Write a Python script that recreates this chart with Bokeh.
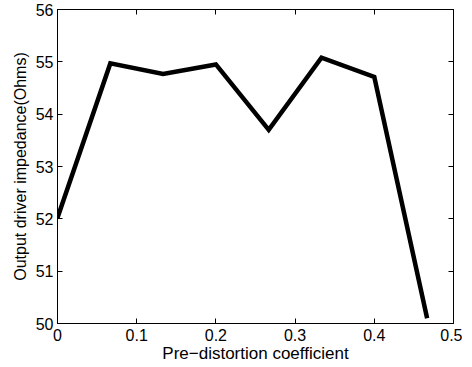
from bokeh.plotting import figure
from bokeh.models import LinearAxis, Range1d, FixedTicker
from bokeh.embed import file_html
from bokeh.resources import INLINE

coeff = [0.0, 0.0667, 0.1333, 0.2, 0.2667, 0.3333, 0.4, 0.4667]
impedance = [52.02, 54.97, 54.77, 54.95, 53.70, 55.08, 54.71, 50.10]
x_ticks = [0, 0.1, 0.2, 0.3, 0.4, 0.5]
y_ticks = [50, 51, 52, 53, 54, 55, 56]

FONT = "Liberation Sans"

p = figure(width=462, height=365, output_backend="svg", toolbar_location=None,
           x_range=Range1d(0, 0.5), y_range=Range1d(50, 56),
           min_border_left=57, min_border_right=9, min_border_top=9, min_border_bottom=40)
p.background_fill_color = "white"
p.border_fill_color = "white"
p.outline_line_color = "black"
p.outline_line_width = 1
p.xgrid.visible = False
p.ygrid.visible = False

p.line(coeff, impedance, line_color="black", line_width=4.5, line_join="miter")

for ax in (p.xaxis[0], p.yaxis[0]):
    ax.major_tick_in = 5
    ax.major_tick_out = 0
    ax.minor_tick_in = 0
    ax.minor_tick_out = 0
    ax.axis_line_color = "black"
    ax.major_label_text_font = FONT
    ax.major_label_text_font_size = "16px"
    ax.major_label_text_color = "black"
    ax.axis_label_text_font = FONT
    ax.axis_label_text_font_style = "normal"
    ax.axis_label_text_color = "black"

p.xaxis[0].axis_label_text_font_size = "17px"
p.yaxis[0].axis_label_text_font_size = "16px"
p.xaxis[0].ticker = FixedTicker(ticks=x_ticks)
p.yaxis[0].ticker = FixedTicker(ticks=y_ticks)
p.xaxis[0].major_label_overrides = {0: "0", 0.5: "0.5"}
p.xaxis[0].axis_label = "Pre\u2212distortion coefficient"
p.yaxis[0].axis_label = "Output driver impedance(Ohms)"
p.xaxis[0].major_label_standoff = 5
p.xaxis[0].axis_label_standoff = 0
p.yaxis[0].major_label_standoff = 4
p.yaxis[0].axis_label_standoff = 4

top = LinearAxis(ticker=FixedTicker(ticks=x_ticks), major_label_text_font_size="0px",
                 major_tick_in=5, major_tick_out=0, minor_tick_in=0, minor_tick_out=0)
right = LinearAxis(ticker=FixedTicker(ticks=y_ticks), major_label_text_font_size="0px",
                   major_tick_in=5, major_tick_out=0, minor_tick_in=0, minor_tick_out=0)
top.major_label_standoff = 0
right.major_label_standoff = 0
p.add_layout(top, "above")
p.add_layout(right, "right")

open("out.html", "w").write(file_html(p, INLINE))
